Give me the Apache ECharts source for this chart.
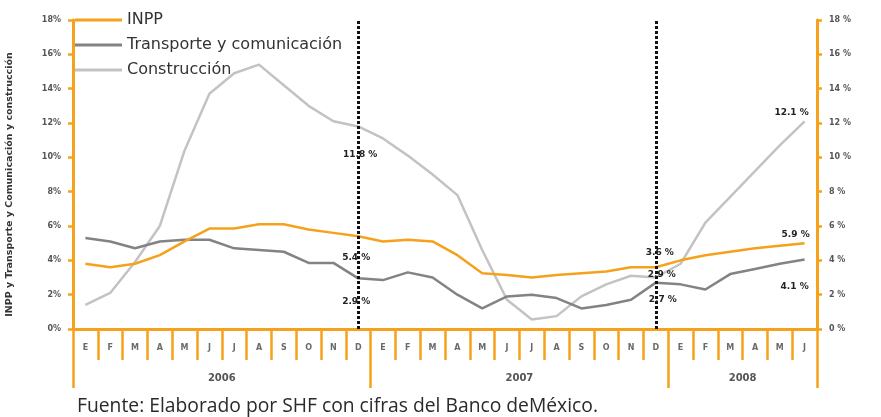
<!DOCTYPE html>
<html>
<head>
<meta charset="utf-8">
<script src="https://cdn.jsdelivr.net/npm/echarts@6/dist/echarts.min.js"></script>
<style>
html,body{margin:0;padding:0;background:#fff;}
#chart{width:881px;height:417px;}
</style>
</head>
<body>
<div id="chart"></div>
<script>
// ---- data ----
const months = ['E','F','M','A','M','J','J','A','S','O','N','D',
                'E','F','M','A','M','J','J','A','S','O','N','D',
                'E','F','M','A','M','J'];
const years = ['2006','2007','2008'];
const yearLengths = [12, 12, 6];
const inpp = [3.8,3.6,3.8,4.3,5.1,5.85,5.85,6.1,6.1,5.8,5.6,5.4,
              5.1,5.2,5.1,4.3,3.25,3.15,3.0,3.15,3.25,3.35,3.6,3.6,
              4.0,4.3,4.5,4.7,4.85,5.0];
const transporte = [5.3,5.1,4.7,5.1,5.2,5.2,4.7,4.6,4.5,3.85,3.85,2.95,
                    2.85,3.3,3.0,2.0,1.2,1.9,2.0,1.8,1.2,1.4,1.7,2.7,
                    2.6,2.3,3.2,3.5,3.8,4.05];
const construccion = [1.4,2.1,3.9,6.0,10.4,13.7,14.9,15.4,14.2,13.0,12.1,11.8,
                      11.1,10.1,9.0,7.8,4.6,1.7,0.55,0.75,1.9,2.6,3.1,3.0,
                      3.8,6.2,7.7,9.2,10.7,12.1];
const seriesNames = ['INPP','Transporte y comunicación','Construcción'];
const noteTexts = ['11.8 %','5.4 %','2.9 %','3.6 %','2.9 %','2.7 %','12.1 %','5.9 %','4.1 %'];
const markerMonths = [11, 23];
const footnote = 'Fuente: Elaborado por SHF con cifras del Banco deMéxico.';
const yAxisTitle = 'INPP y Transporte y Comunicación y construcción';

// ---- derived ----
const yearCenter = {};
let acc = 0;
yearLengths.forEach((n, i) => { yearCenter[acc + n / 2] = years[i]; acc += n; });
const yearStarts = [];
acc = 0;
yearLengths.forEach(n => { yearStarts.push(acc); acc += n; });

const ORANGE = '#F6A11C';
const AXFONT = 'DejaVu Sans';

const chart = echarts.init(document.getElementById('chart'));
const noteAnchors = [
  [11, 10.13, 2], [11, 4.14, -2], [11, 1.57, -2],
  [23, 4.43, 4], [23, 3.15, 6], [23, 1.69, 7],
  [29, 12.58, -13], [29, 5.47, -9], [29, 2.45, -10]
];
const noteData = noteTexts.map((t, i) => ({
  coord: [noteAnchors[i][0], noteAnchors[i][1]],
  label: { formatter: t, offset: [noteAnchors[i][2], 0] }
}));

const yAxisCommon = {
  type: 'value', min: 0, max: 18, interval: 2,
  splitLine: { show: false },
  axisLine: { show: true, lineStyle: { color: ORANGE, width: 3 } },
  axisTick: { show: true, length: 5, lineStyle: { color: ORANGE, width: 2.5 } }
};

chart.setOption({
  animation: false,
  backgroundColor: '#fff',
  grid: { left: 73, right: 64, top: 20, bottom: 88, containLabel: false, outerBoundsMode: 'none' },
  title: {
    text: footnote, left: 72, top: 392,
    textStyle: { fontFamily: 'Open Sans', fontSize: 19.3, fontWeight: 'normal', color: '#2a2a2a' }
  },
  legend: {
    orient: 'vertical', left: 70, top: 7, itemGap: 9,
    icon: 'rect', itemWidth: 47, itemHeight: 3,
    textStyle: { fontFamily: AXFONT, fontSize: 16, color: '#333' },
    data: seriesNames
  },
  xAxis: [
    {
      type: 'category', data: months, position: 'bottom', boundaryGap: true,
      axisLine: { show: true, lineStyle: { color: ORANGE, width: 3 } },
      axisTick: { show: true, length: 31, interval: 0, lineStyle: { color: ORANGE, width: 2.5 } },
      axisLabel: { interval: 0, margin: 15, fontFamily: AXFONT, fontSize: 8, color: '#6a6a6a', fontWeight: 'bold' },
      splitLine: { show: false }
    },
    {
      type: 'category', data: months, position: 'bottom', boundaryGap: true,
      axisLine: { show: false },
      axisTick: { show: true, length: 59, interval: (i) => yearStarts.indexOf(i) >= 0, lineStyle: { color: ORANGE, width: 2.5 } },
      axisLabel: { show: false },
      splitLine: { show: false }
    },
    {
      type: 'value', min: 0, max: months.length, interval: 1, position: 'bottom',
      axisLine: { show: false }, axisTick: { show: false }, splitLine: { show: false },
      axisLabel: {
        margin: 44, fontFamily: AXFONT, fontSize: 10, color: '#555', fontWeight: 'bold',
        formatter: (v) => yearCenter[v] || ''
      }
    }
  ],
  yAxis: [
    Object.assign({}, yAxisCommon, {
      position: 'left',
      name: yAxisTitle,
      nameLocation: 'middle', nameGap: 58, nameRotate: 90,
      nameTextStyle: { fontFamily: AXFONT, fontSize: 9.5, fontWeight: 'bold', color: '#333', padding: [0, 20, 0, 0] },
      axisLabel: { margin: 12, fontFamily: AXFONT, fontSize: 8, fontWeight: 'bold', color: '#555', formatter: '{value}%' }
    }),
    Object.assign({}, yAxisCommon, {
      position: 'right',
      axisLabel: { margin: 12, fontFamily: AXFONT, fontSize: 8, fontWeight: 'bold', color: '#555', formatter: '{value} %' }
    })
  ],
  series: [
    {
      name: seriesNames[0], type: 'line', data: inpp, symbol: 'none', z: 4,
      lineStyle: { color: ORANGE, width: 2.5 }, itemStyle: { color: ORANGE }
    },
    {
      name: seriesNames[1], type: 'line', data: transporte, symbol: 'none', z: 3,
      lineStyle: { color: '#838383', width: 2.5 }, itemStyle: { color: '#838383' }
    },
    {
      name: seriesNames[2], type: 'line', data: construccion, symbol: 'none', z: 2,
      lineStyle: { color: '#c3c3c3', width: 2.5 }, itemStyle: { color: '#c3c3c3' },
      markLine: {
        silent: true, symbol: 'none', z: 10,
        label: { show: false },
        lineStyle: { color: '#111', type: [3, 2], width: 3 },
        data: markerMonths.map(m => ({ xAxis: m }))
      },
      markPoint: {
        symbol: 'rect', symbolSize: 1, z: 12,
        itemStyle: { color: 'rgba(0,0,0,0)' },
        label: { show: true, position: 'inside', fontFamily: AXFONT, fontSize: 9, fontWeight: 'bold', color: '#222' },
        data: noteData
      }
    }
  ]
});
</script>
</body>
</html>
